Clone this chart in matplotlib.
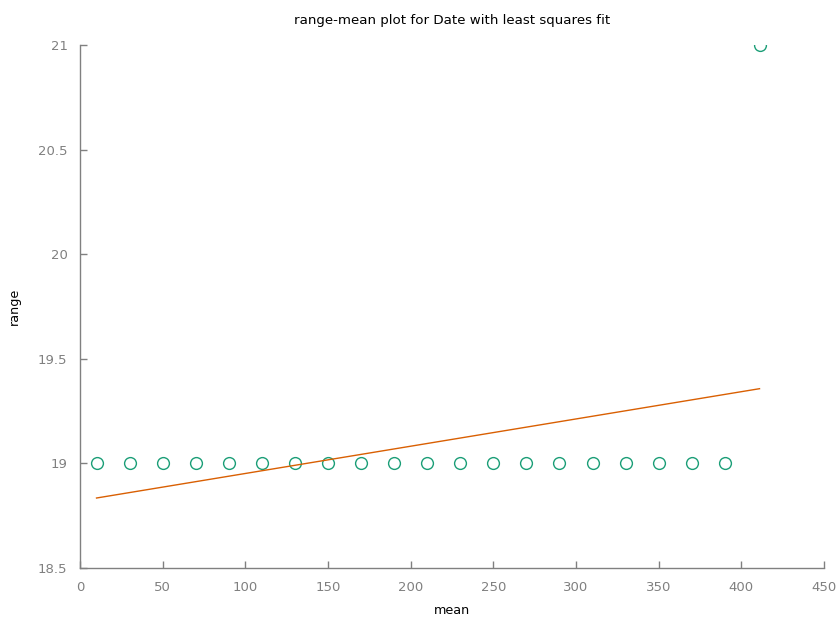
import matplotlib
matplotlib.use("Agg")
import matplotlib.pyplot as plt
import numpy as np

# group means and ranges
means = [10, 30, 50, 70, 90, 110, 130, 150, 170, 190, 210, 230, 250,
         270, 290, 310, 330, 350, 370, 390, 411]
ranges = [19, 19, 19, 19, 19, 19, 19, 19, 19, 19, 19, 19, 19,
          19, 19, 19, 19, 19, 19, 19, 21]

xticks = [0, 50, 100, 150, 200, 250, 300, 350, 400, 450]
yticks = [18.5, 19, 19.5, 20, 20.5, 21]

green = "#1b9e77"
orange = "#d95f02"
axcolor = "#808080"

x = np.array(means, dtype=float)
y = np.array(ranges, dtype=float)
slope, intercept = np.polyfit(x, y, 1)
xfit = np.array([x.min(), x.max()])
yfit = intercept + slope * xfit

fig = plt.figure(figsize=(8.39, 6.17), dpi=100)
ax = fig.add_axes([80 / 839, 49 / 617, 744 / 839, 523 / 617])

ax.plot(x, y, "o", mfc="none", mec=green, ms=8.5, mew=1.0)
ax.plot(xfit, yfit, "-", color=orange, lw=1.0)

ax.set_xlim(0, 450)
ax.set_ylim(18.5, 21)
ax.set_xticks(xticks)
ax.set_xticklabels([str(t) for t in xticks])
ax.set_yticks(yticks)
ax.set_yticklabels([f"{t:g}" for t in yticks])

for side in ["top", "right"]:
    ax.spines[side].set_visible(False)
for side in ["left", "bottom"]:
    ax.spines[side].set_color(axcolor)
    ax.spines[side].set_linewidth(1.0)

ax.tick_params(direction="in", length=5, width=1, color=axcolor,
               labelcolor=axcolor, labelsize=9.5)
ax.tick_params(axis="x", pad=9.5)
ax.tick_params(axis="y", pad=9)

ax.set_xlabel("mean", fontsize=9.2, labelpad=7)
ax.set_ylabel("range", fontsize=9.2, labelpad=12)
ax.set_title("range-mean plot for Date with least squares fit", fontsize=9.6, pad=15)

fig.savefig("out.png", dpi=100)
